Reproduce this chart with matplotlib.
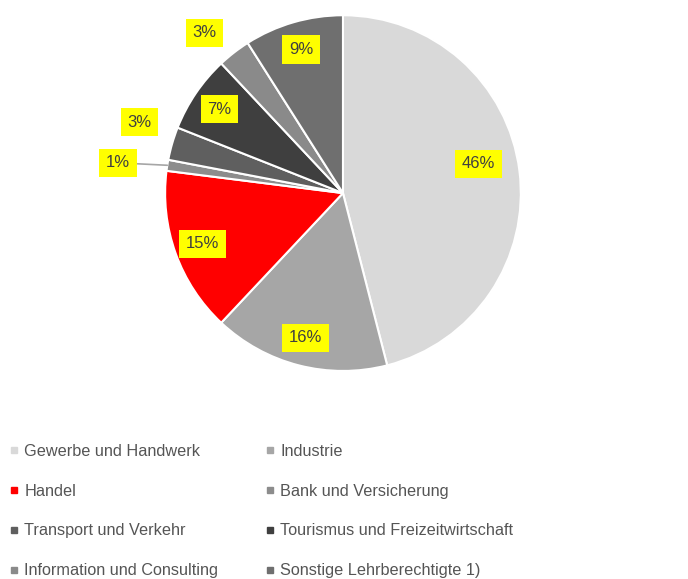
import numpy as np
import matplotlib.pyplot as plt
from matplotlib.lines import Line2D

plt.rcParams['font.family'] = ['Liberation Sans', 'DejaVu Sans']

categories = ['Gewerbe und Handwerk', 'Industrie', 'Handel', 'Bank und Versicherung',
              'Transport und Verkehr', 'Tourismus und Freizeitwirtschaft',
              'Information und Consulting', 'Sonstige Lehrberechtigte 1)']
shares = [46, 16, 15, 1, 3, 7, 3, 9]
colors = ['#d9d9d9', '#a6a6a6', '#ff0000', '#8c8c8c', '#5f5f5f', '#3f3f3f', '#8a8a8a', '#6f6f6f']

fig = plt.figure(figsize=(6.88, 5.79), dpi=100)
ax = fig.add_axes([0.240, 0.359, 0.517, 0.615])

wedges, _ = ax.pie(shares, colors=colors, startangle=90, counterclock=False,
                   wedgeprops=dict(edgecolor='white', linewidth=1.5))
ax.set_xlim(-1, 1)
ax.set_ylim(-1, 1)
ax.set_aspect('equal')

box = dict(boxstyle='square,pad=0.4', facecolor='#ffff00', edgecolor='none')
# label distance and angle nudge (deg) per slice, small slices sit outside
label_r = [0.78, 0.84, 0.84, 1.28, 1.21, 0.84, 1.19, 0.84]
label_da = [5, 0, 0, 0, -3, 0, 3, 0]
for i, w in enumerate(wedges):
    mid = np.deg2rad((w.theta1 + w.theta2) / 2 + label_da[i])
    r = label_r[i]
    x, y = r * np.cos(mid), r * np.sin(mid)
    txt = f'{shares[i]}%'
    if i == 3:
        ax.annotate(txt, xy=(np.cos(mid), np.sin(mid)), xytext=(x, y - 0.03),
                    ha='center', va='center', fontsize=12, color='#404040', bbox=box,
                    arrowprops=dict(arrowstyle='-', color='#a6a6a6', lw=1.2,
                                    shrinkA=0, shrinkB=0))
    else:
        ax.text(x, y, txt, ha='center', va='center', fontsize=12,
                color='#404040', bbox=box)

handles = [Line2D([], [], marker='s', linestyle='none', markersize=4.5,
                  markerfacecolor=c, markeredgecolor=c) for c in colors]
order = [0, 2, 4, 6, 1, 3, 5, 7]
fig.legend([handles[k] for k in order], [categories[k] for k in order],
           ncol=2, loc='upper left', bbox_to_anchor=(-0.007, 0.259),
           frameon=False, fontsize=11.7, labelcolor='#555555',
           handlelength=0.5, handletextpad=0.4, labelspacing=1.53,
           columnspacing=2.9)

fig.savefig('out.png', dpi=100, facecolor='white')
